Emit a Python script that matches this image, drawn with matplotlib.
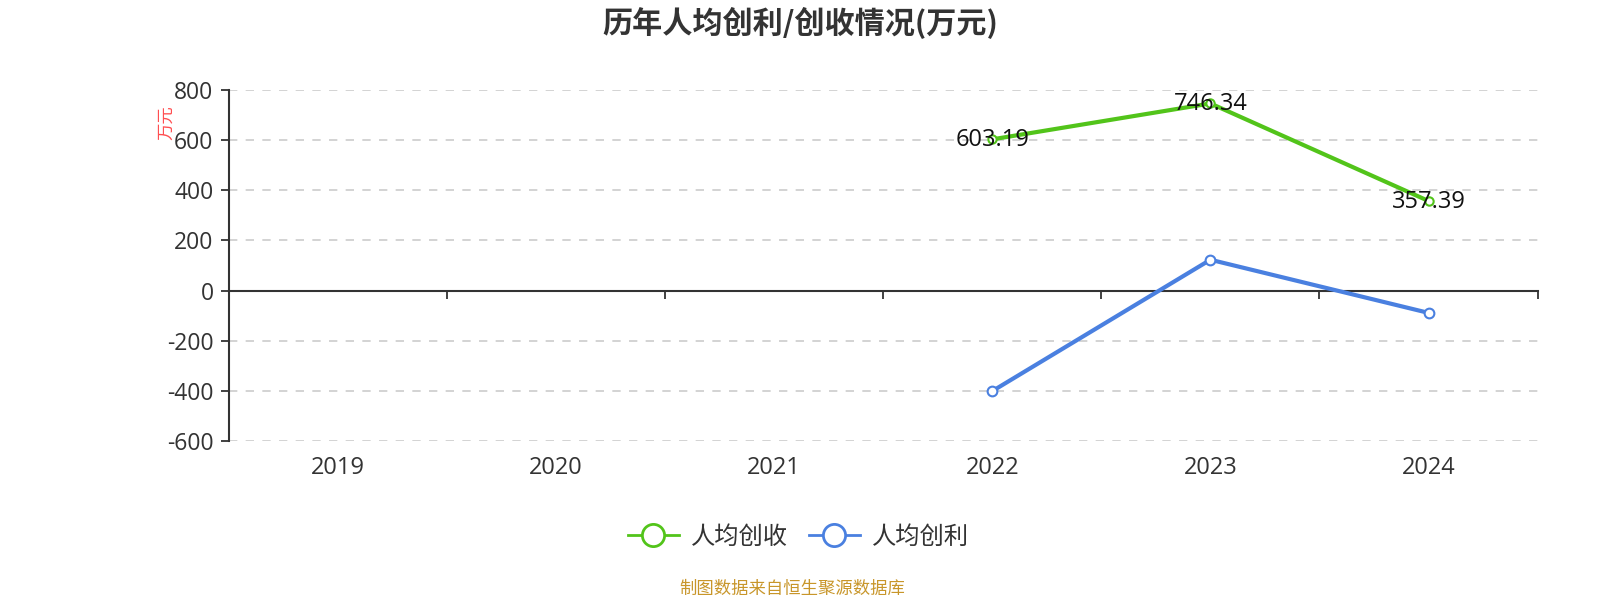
import matplotlib
matplotlib.use("Agg")
import matplotlib.pyplot as plt
import numpy as np
from matplotlib.lines import Line2D

plt.rcParams['font.family'] = ['Open Sans', 'Noto Sans CJK SC', 'DejaVu Sans']
CJK = ['Noto Sans CJK SC', 'DejaVu Sans']

years = ['2019', '2020', '2021', '2022', '2023', '2024']
revenue_per_capita = [None, None, None, 603.19, 746.34, 357.39]
profit_per_capita = [None, None, None, -401.0, 123.0, -89.0]
revenue_labels = ['603.19', '746.34', '357.39']
yticks = [-600, -400, -200, 0, 200, 400, 600, 800]

green = '#52c41a'
blue = '#4a80e0'

fig = plt.figure(figsize=(16, 6), dpi=100)
ax = fig.add_axes([0.143, 0.265, 0.818, 0.585])

x = np.arange(len(years))
rev = np.array([np.nan if v is None else v for v in revenue_per_capita], dtype=float)
prof = np.array([np.nan if v is None else v for v in profit_per_capita], dtype=float)

ax.plot(x, rev, color=green, lw=3, marker='o', ms=6, mfc='white', mec=green, mew=1.5, zorder=3)
ax.plot(x, prof, color=blue, lw=3, marker='o', ms=7, mfc='white', mec=blue, mew=1.5, zorder=3)

valid = [i for i in range(len(years)) if not np.isnan(rev[i])]
for i, lab in zip(valid, revenue_labels):
    ax.text(x[i], rev[i] - 4, lab, ha='center', va='center', fontsize=17, color='#111111', zorder=4)

ax.set_xlim(-0.5, len(years) - 0.5)
ax.set_ylim(-600, 800)
ax.set_yticks(yticks)
ax.set_yticklabels([str(v) for v in yticks])
ax.set_xticks(x)
ax.set_xticklabels(years)
ax.set_xticks(np.arange(0.5, len(years) - 0.4, 1.0), minor=True)
ax.tick_params(axis='x', which='major', length=0, pad=119, labelsize=17, labelcolor='#333333')
ax.tick_params(axis='x', which='minor', length=6, width=1.3, color='#333333', direction='out')
ax.tick_params(axis='y', length=6, width=1.3, color='#333333', pad=5, labelsize=16.5, labelcolor='#333333')

for yv in yticks:
    if yv != 0:
        ax.axhline(yv, color='#cccccc', lw=1.2, ls=(0, (5, 5)), zorder=1)

ax.spines['top'].set_visible(False)
ax.spines['right'].set_visible(False)
ax.spines['bottom'].set_position(('data', 0))
ax.spines['bottom'].set_color('#333333')
ax.spines['bottom'].set_linewidth(1.5)
ax.spines['left'].set_color('#333333')
ax.spines['left'].set_linewidth(1.5)

fig.text(0.104, 0.796, '万元', color='#ff4d4f', fontsize=12.5, rotation=90, ha='center', va='center',
         family=CJK)

fig.text(0.5, 0.962, '历年人均创利/创收情况(万元)', ha='center', va='center', fontsize=21.7,
         fontweight='bold', color='#333333', family=CJK)

handles = [
    Line2D([0], [0], color=green, lw=2, marker='o', ms=16, mfc='white', mec=green, mew=2),
    Line2D([0], [0], color=blue, lw=2, marker='o', ms=16, mfc='white', mec=blue, mew=2),
]
fig.legend(handles, ['人均创收', '人均创利'], loc='center', bbox_to_anchor=(0.499, 0.105),
           ncol=2, frameon=False, prop={'family': CJK, 'size': 17.5}, handlelength=2.1,
           columnspacing=0.86, handletextpad=0.5, labelcolor='#333333')

fig.text(0.495, 0.018, '制图数据来自恒生聚源数据库', ha='center', va='center', fontsize=12.5,
         color='#c8962a', family=CJK)

fig.savefig('out.png', dpi=100)
